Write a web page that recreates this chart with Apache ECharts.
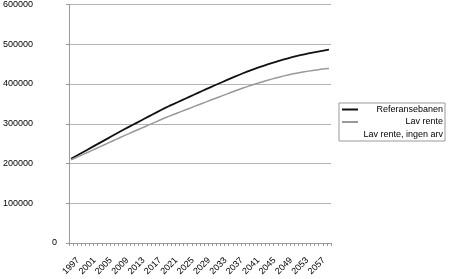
<!DOCTYPE html>
<html><head><meta charset="utf-8">
<script src="https://cdn.jsdelivr.net/npm/echarts@6/dist/echarts.min.js"></script>
<style>html,body{margin:0;padding:0;background:#fff}#c{width:450px;height:279px}</style>
</head><body><div id="c"></div>
<script>
const years = ["1997","1998","1999","2000","2001","2002","2003","2004","2005","2006","2007","2008","2009","2010","2011","2012","2013","2014","2015","2016","2017","2018","2019","2020","2021","2022","2023","2024","2025","2026","2027","2028","2029","2030","2031","2032","2033","2034","2035","2036","2037","2038","2039","2040","2041","2042","2043","2044","2045","2046","2047","2048","2049","2050","2051","2052","2053","2054","2055","2056","2057","2058","2059","2060"];
const seriesNames = ["Referansebanen", "Lav rente", "Lav rente, ingen arv"];
const referansebanen = [212000,217700,223400,229100,234800,240500,246200,251900,257600,263300,269000,274700,280400,286100,291500,296900,302300,307700,313100,318500,323900,329300,334700,340000,344800,349500,354200,358900,363600,368300,373000,377700,382400,387000,391600,396100,400600,405100,409600,414000,418400,422700,427000,431200,435000,438700,442300,445800,449200,452500,455700,458800,461800,464700,467400,470000,472400,474700,476900,479000,481000,482900,484700,486300];
const lavRente = [209000,213700,218400,223100,227800,232500,237200,241900,246600,251300,256000,260700,265400,270100,274600,279100,283600,288100,292600,297100,301600,306100,310600,315000,319100,323100,327100,331100,335100,339100,343100,347100,351100,355000,359000,362900,366800,370700,374600,378500,382300,386100,389800,393400,396800,400100,403300,406400,409400,412300,415100,417800,420400,422800,425000,427000,428900,430700,432400,434000,435500,436900,438100,439200];
const lavRenteIngenArv = [];
const yTicks = {min: 0, max: 600000, interval: 100000};

const chart = echarts.init(document.getElementById('c'), null, {renderer: 'canvas'});
const font = 'Liberation Sans';
chart.setOption({
  animation: false,
  backgroundColor: '#fff',
  textStyle: {fontFamily: font},
  grid: {left: 65, right: 119, top: 3, bottom: 36, containLabel: false},
  legend: {
    orient: 'vertical', right: 5, top: 103,
    padding: [2, 2, 2, 2], itemGap: 3.5, itemWidth: 16, itemHeight: 10,
    borderColor: '#999', borderWidth: 1, backgroundColor: '#fff',
    data: seriesNames,
    itemStyle: {opacity: 0, borderWidth: 0},
    formatter: n => '{a|' + n + '}',
    textStyle: {fontFamily: font, fontSize: 9, color: '#000', rich: {a: {width: 80, align: 'right', fontFamily: font, fontSize: 9, color: '#000'}}}
  },
  xAxis: {
    type: 'category', data: years, boundaryGap: true,
    axisLine: {lineStyle: {color: '#999', width: 1}},
    axisTick: {show: true, interval: 0, length: 3, lineStyle: {color: '#999'}},
    axisLabel: {interval: 3, rotate: 45, align: 'center', verticalAlign: 'middle', margin: 23, fontSize: 9, fontFamily: font, color: '#000'},
    splitLine: {show: false}
  },
  yAxis: [{
    type: 'value', min: yTicks.min, max: yTicks.max, interval: yTicks.interval,
    axisLine: {show: true, lineStyle: {color: '#999'}},
    axisTick: {show: true, length: 3, lineStyle: {color: '#999'}},
    axisLabel: {margin: 36, fontSize: 9, fontFamily: font, color: '#000', formatter: v => v === 0 ? '' : String(v)},
    splitLine: {show: true, lineStyle: {color: '#b4b4b4', width: 1}}
  }, {
    type: 'value', position: 'left', min: yTicks.min, max: yTicks.max, interval: yTicks.interval,
    axisLine: {show: false}, axisTick: {show: false}, splitLine: {show: false},
    axisLabel: {margin: 12, fontSize: 9, fontFamily: font, color: '#000', formatter: v => v === 0 ? '0' : ''}
  }],
  series: [
    {name: seriesNames[0], type: 'line', data: referansebanen, symbol: 'none', color: '#111', lineStyle: {color: '#111', width: 1.8}},
    {name: seriesNames[1], type: 'line', data: lavRente, symbol: 'none', color: '#999', lineStyle: {color: '#999', width: 1.5}},
    {name: seriesNames[2], type: 'line', data: lavRenteIngenArv, symbol: 'none', color: '#fff', lineStyle: {color: '#fff', width: 1.5}}
  ]
});
</script></body></html>
